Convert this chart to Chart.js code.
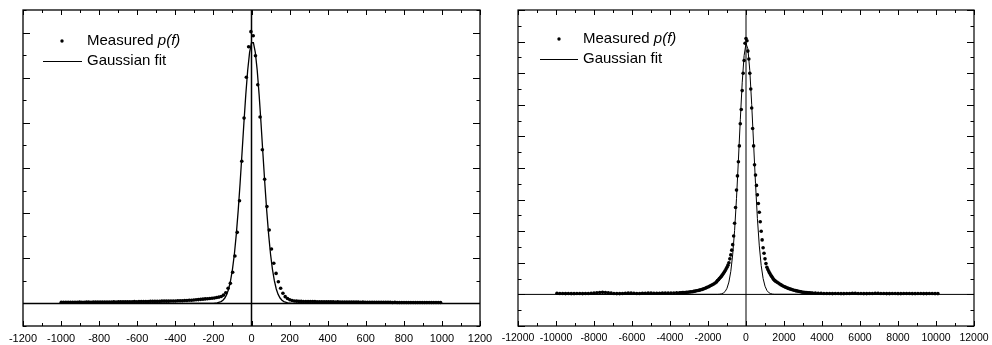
<!DOCTYPE html>
<html>
<head>
<meta charset="utf-8">
<script src="https://cdn.jsdelivr.net/npm/chart.js@4/dist/chart.umd.min.js"></script>
<style>
  body { margin: 0; background: #fff; }
  canvas { position: absolute; top: 0; }
  #left { left: 0; }
  #right { left: 500px; }
</style>
</head>
<body>
<canvas id="left" width="500" height="345"></canvas>
<canvas id="right" width="492" height="345"></canvas>
<script>
// ---- left panel: frequency (Hz) and measured p(f) ----
const leftFreq = [
  -999,-987,-975,-963,-951,-939,-927,-915,-903,-891,
  -879,-867,-855,-843,-831,-819,-807,-795,-783,-771,
  -759,-747,-735,-723,-711,-699,-687,-675,-663,-651,
  -639,-627,-615,-603,-591,-579,-567,-555,-543,-531,
  -519,-507,-495,-483,-471,-459,-447,-435,-423,-411,
  -399,-387,-375,-363,-351,-339,-327,-315,-303,-291,
  -279,-267,-255,-243,-231,-219,-207,-195,-183,-171,
  -159,-147,-135,-123,-111,-99,-87,-75,-63,-51,
  -39,-27,-15,-3,9,21,33,45,57,69,
  81,93,105,117,129,141,153,165,177,189,
  201,213,225,237,249,261,273,285,297,309,
  321,333,345,357,369,381,393,405,417,429,
  441,453,465,477,489,501,513,525,537,549,
  561,573,585,597,609,621,633,645,657,669,
  681,693,705,717,729,741,753,765,777,789,
  801,813,825,837,849,861,873,885,897,909,
  921,933,945,957,969,981,993
];
const leftMeasured = [
  0.05,0.05,0.05,0.05,0.05,0.05,0.05,0.05,0.06,0.05,
  0.05,0.06,0.06,0.05,0.06,0.06,0.06,0.06,0.06,0.06,
  0.06,0.06,0.06,0.07,0.06,0.07,0.07,0.07,0.07,0.07,
  0.07,0.07,0.08,0.07,0.08,0.08,0.08,0.08,0.08,0.09,
  0.09,0.09,0.09,0.09,0.10,0.10,0.10,0.10,0.11,0.11,
  0.11,0.12,0.12,0.12,0.13,0.13,0.14,0.14,0.15,0.16,
  0.17,0.18,0.19,0.20,0.21,0.22,0.23,0.24,0.26,0.28,
  0.31,0.37,0.47,0.67,0.89,1.38,2.10,3.15,4.55,6.30,
  8.21,10.02,11.37,12.04,11.86,10.97,9.69,8.26,6.81,5.50,
  4.29,3.25,2.41,1.78,1.33,0.96,0.67,0.45,0.30,0.22,
  0.16,0.13,0.11,0.10,0.09,0.09,0.08,0.08,0.08,0.08,
  0.08,0.08,0.07,0.07,0.07,0.07,0.07,0.07,0.07,0.07,
  0.06,0.07,0.06,0.06,0.06,0.06,0.06,0.06,0.06,0.06,
  0.06,0.05,0.06,0.05,0.05,0.05,0.05,0.05,0.05,0.05,
  0.05,0.05,0.05,0.05,0.05,0.04,0.05,0.04,0.04,0.04,
  0.04,0.04,0.04,0.04,0.04,0.04,0.04,0.04,0.04,0.04,
  0.04,0.04,0.04,0.04,0.04,0.04,0.04
];
const leftFitFreq = [-1000,-200,-180,-160,-150,-140,-130,-120,-110,-100,-90,-80,-70,-60,-50,-40,-30,-20,-10,
  0,10,20,30,40,50,60,70,80,90,100,110,120,130,140,150,160,170,190,210,1000];
const leftFit = [0,0.005,0.02,0.08,0.14,0.24,0.40,0.64,1.01,1.51,2.18,3.05,4.10,5.31,6.63,7.98,9.25,10.33,11.12,
  11.55,11.55,11.12,10.33,9.25,7.98,6.63,5.31,4.10,3.05,2.18,1.51,1.01,0.64,0.40,0.24,0.14,0.08,0.02,0.005,0];

// ---- right panel ----
const rightFreq = [
  -9950,-9800,-9650,-9500,-9350,-9200,-9050,-8900,-8750,-8600,
  -8450,-8300,-8150,-8000,-7850,-7700,-7550,-7400,-7250,-7100,
  -6950,-6800,-6650,-6500,-6350,-6200,-6050,-5900,-5750,-5600,
  -5450,-5300,-5150,-5000,-4850,-4700,-4550,-4400,-4250,-4100,
  -3950,-3800,-3650,
  -3500,-3425,-3350,-3275,-3200,-3125,-3050,-2975,-2900,-2825,
  -2750,-2675,-2600,-2525,-2450,-2375,-2300,-2225,-2150,-2075,
  -2000,-1925,-1850,-1775,-1700,-1625,-1550,
  -1500,-1450,-1400,-1350,-1300,-1250,-1200,-1150,-1100,-1050,
  -1000,-950,-900,-850,-800,-750,-700,-650,-600,-550,
  -500,-450,-400,-350,-300,-250,-200,-150,-100,-50,
  0,
  50,100,150,200,250,300,350,400,450,500,
  550,600,650,700,750,800,850,900,950,1000,
  1050,1100,1150,1200,1250,1300,1350,1400,1450,1500,
  1550,1625,1700,1775,1850,1925,2000,2075,2150,2225,
  2300,2375,2450,2525,2600,2675,2750,2825,2900,2975,
  3050,3125,3200,3275,3350,3425,3500,
  3650,3800,3950,4100,4250,4400,
  4550,4700,4850,5000,5150,5300,5450,5600,5750,5900,
  6050,6200,6350,6500,6650,6800,6950,7100,7250,7400,
  7550,7700,7850,8000,8150,8300,8450,8600,8750,8900,
  9050,9200,9350,9500,9650,9800,9950,10100
];
const rightMeasured = [
  0.07,0.06,0.06,0.05,0.06,0.05,0.05,0.06,0.06,0.05,
  0.06,0.06,0.07,0.08,0.10,0.12,0.13,0.12,0.10,0.08,
  0.06,0.05,0.05,0.06,0.07,0.08,0.08,0.07,0.06,0.06,
  0.07,0.07,0.08,0.08,0.07,0.07,0.07,0.08,0.08,0.08,
  0.09,0.09,0.10,
  0.10,0.10,0.11,0.11,0.12,0.13,0.14,0.15,0.16,0.17,
  0.19,0.21,0.23,0.25,0.27,0.29,0.32,0.35,0.39,0.43,
  0.47,0.51,0.56,0.61,0.66,0.72,0.79,
  0.88,0.93,1.00,1.07,1.14,1.22,1.30,1.40,1.50,1.60,
  1.72,1.85,2.00,2.25,2.50,2.80,3.15,3.70,4.50,5.50,
  6.60,7.50,8.40,9.40,10.8,11.7,12.9,14.0,14.8,15.9,
  16.2,
  16.05,15.4,14.9,14.0,13.0,11.8,10.5,9.40,8.20,7.55,
  6.90,6.30,5.75,5.20,4.60,4.00,3.45,2.95,2.60,2.25,
  1.95,1.72,1.57,1.45,1.34,1.23,1.14,1.05,0.96,0.90,
  0.84,0.78,0.72,0.66,0.60,0.55,0.50,0.46,0.42,0.38,
  0.35,0.32,0.29,0.26,0.24,0.22,0.20,0.18,0.16,0.14,
  0.13,0.12,0.11,0.10,0.10,0.09,0.09,
  0.08,0.07,0.07,0.06,0.06,0.06,
  0.05,0.06,0.06,0.05,0.05,0.06,0.06,0.07,0.07,0.06,
  0.06,0.05,0.05,0.06,0.06,0.07,0.07,0.06,0.06,0.05,
  0.05,0.06,0.06,0.05,0.05,0.06,0.06,0.06,0.05,0.05,
  0.06,0.06,0.05,0.05,0.06,0.06,0.05,0.05
];
const rightFitFreq = [-10000,-1500,-1400,-1300,-1200,-1100,-1000,-900,-800,-700,-600,-500,-400,-300,-200,-100,
  0,100,200,300,400,500,600,700,800,900,1000,1100,1200,1300,1400,1500,10000];
const rightFit = [0,0.004,0.012,0.032,0.08,0.18,0.39,0.78,1.46,2.52,4.05,6.08,8.49,11.05,13.39,15.11,
  15.88,15.54,14.17,12.03,9.52,7.01,4.81,3.07,1.83,1.01,0.52,0.25,0.11,0.05,0.018,0.007,0];

const FONT = '"Liberation Sans", Arial, sans-serif';

function pairs(xs, ys) {
    return xs.map((x, i) => ({ x: x, y: ys[i] }));
}

const axisPlugin = {
    id: 'axisFrame',
    beforeDatasetsDraw(chart, args, o) {
        const { ctx, chartArea: a } = chart;
        const x0 = chart.scales.x.getPixelForValue(0);
        const y0 = chart.scales.y.getPixelForValue(0);
        ctx.save();
        ctx.strokeStyle = '#000';
        ctx.lineWidth = o.zeroWidth;
        ctx.beginPath();
        ctx.moveTo(a.left, y0); ctx.lineTo(a.right, y0);
        ctx.moveTo(x0, a.top); ctx.lineTo(x0, a.bottom);
        ctx.stroke();
        ctx.restore();
    },
    afterDatasetsDraw(chart, args, o) {
        const { ctx, chartArea: a } = chart;
        const xs = chart.scales.x, ys = chart.scales.y;
        ctx.save();
        ctx.strokeStyle = '#000';
        ctx.lineWidth = o.frameWidth;
        ctx.strokeRect(a.left, a.top, a.right - a.left, a.bottom - a.top);
        ctx.lineWidth = 1;
        ctx.beginPath();
        // x ticks, inward on bottom and top
        for (let v = xs.min; v <= xs.max; v += o.xMinor) {
            const px = Math.round(xs.getPixelForValue(v)) + 0.5;
            const len = (Math.round(v / o.xMinor) % 2 === 0) ? 5 : 3;
            ctx.moveTo(px, a.bottom); ctx.lineTo(px, a.bottom - len);
            ctx.moveTo(px, a.top); ctx.lineTo(px, a.top + len);
        }
        // y ticks, inward on left and right
        for (let v = ys.min; v <= ys.max; v += 1) {
            const py = Math.round(ys.getPixelForValue(v)) + 0.5;
            const len = (Math.abs(v) % 2 === 0) ? 7 : 3.5;
            ctx.moveTo(a.left, py); ctx.lineTo(a.left + len, py);
            ctx.moveTo(a.right, py); ctx.lineTo(a.right - len, py);
        }
        ctx.stroke();

        // legend
        const L = o.legend;
        ctx.fillStyle = '#000';
        ctx.beginPath();
        ctx.arc(L.dotX, L.y1, 1.7, 0, Math.PI * 2);
        ctx.fill();
        ctx.lineWidth = 1;
        ctx.beginPath();
        ctx.moveTo(L.lineX0, L.y2 + 0.5); ctx.lineTo(L.lineX1, L.y2 + 0.5);
        ctx.stroke();
        ctx.textBaseline = 'middle';
        ctx.font = L.size + 'px ' + FONT;
        ctx.fillText('Measured ', L.textX, L.y1);
        const w = ctx.measureText('Measured ').width;
        ctx.font = 'italic ' + L.size + 'px ' + FONT;
        ctx.fillText('p(f)', L.textX + w, L.y1);
        ctx.font = L.size + 'px ' + FONT;
        ctx.fillText('Gaussian fit', L.textX, L.y2);
        ctx.restore();
    }
};

function makeChart(id, cfg) {
    return new Chart(document.getElementById(id), {
        type: 'scatter',
        data: {
            datasets: [{
                label: 'Measured p(f)',
                data: cfg.measured,
                showLine: false,
                pointRadius: 1.8,
                pointBorderWidth: 0,
                pointBackgroundColor: '#000'
            }, {
                label: 'Gaussian fit',
                data: cfg.fit,
                showLine: true,
                pointRadius: 0,
                borderColor: '#000',
                borderWidth: cfg.fitWidth,
                fill: false
            }]
        },
        plugins: [axisPlugin],
        options: {
            responsive: false,
            animation: false,
            devicePixelRatio: 1,
            layout: { padding: cfg.padding },
            plugins: {
                legend: { display: false },
                tooltip: { enabled: false },
                axisFrame: cfg.frame
            },
            scales: {
                x: {
                    type: 'linear',
                    min: cfg.xMin,
                    max: cfg.xMax,
                    afterFit(scale) {
                        scale.height = 19;
                        scale.paddingLeft = 0;
                        scale.paddingRight = 0;
                    },
                    ticks: {
                        stepSize: cfg.xStep,
                        autoSkip: false,
                        maxRotation: 0,
                        color: '#000',
                        padding: 6,
                        font: { family: FONT, size: cfg.tickSize },
                        callback: v => String(v)
                    },
                    grid: { display: false, drawTicks: false },
                    border: { display: false }
                },
                y: {
                    display: false,
                    min: cfg.yMin,
                    max: cfg.yMax
                }
            }
        }
    });
}

makeChart('left', {
    measured: pairs(leftFreq, leftMeasured),
    fit: pairs(leftFitFreq, leftFit),
    fitWidth: 1.3,
    padding: { left: 23, right: 20, top: 10, bottom: 0 },
    xMin: -1200, xMax: 1200, xStep: 200,
    yMin: -1, yMax: 13,
    tickSize: 11,
    frame: {
        zeroWidth: 1.5, frameWidth: 1.3, xMinor: 100,
        legend: { dotX: 62, lineX0: 43, lineX1: 82, textX: 87, y1: 41, y2: 61, size: 15 }
    }
});

makeChart('right', {
    measured: pairs(rightFreq, rightMeasured),
    fit: pairs(rightFitFreq, rightFit),
    fitWidth: 1,
    padding: { left: 18, right: 18, top: 10, bottom: 0 },
    xMin: -12000, xMax: 12000, xStep: 2000,
    yMin: -2, yMax: 18,
    tickSize: 10.5,
    frame: {
        zeroWidth: 1, frameWidth: 1.2, xMinor: 1000,
        legend: { dotX: 59, lineX0: 40, lineX1: 78, textX: 83, y1: 39, y2: 59, size: 15 }
    }
});
</script>
</body>
</html>
